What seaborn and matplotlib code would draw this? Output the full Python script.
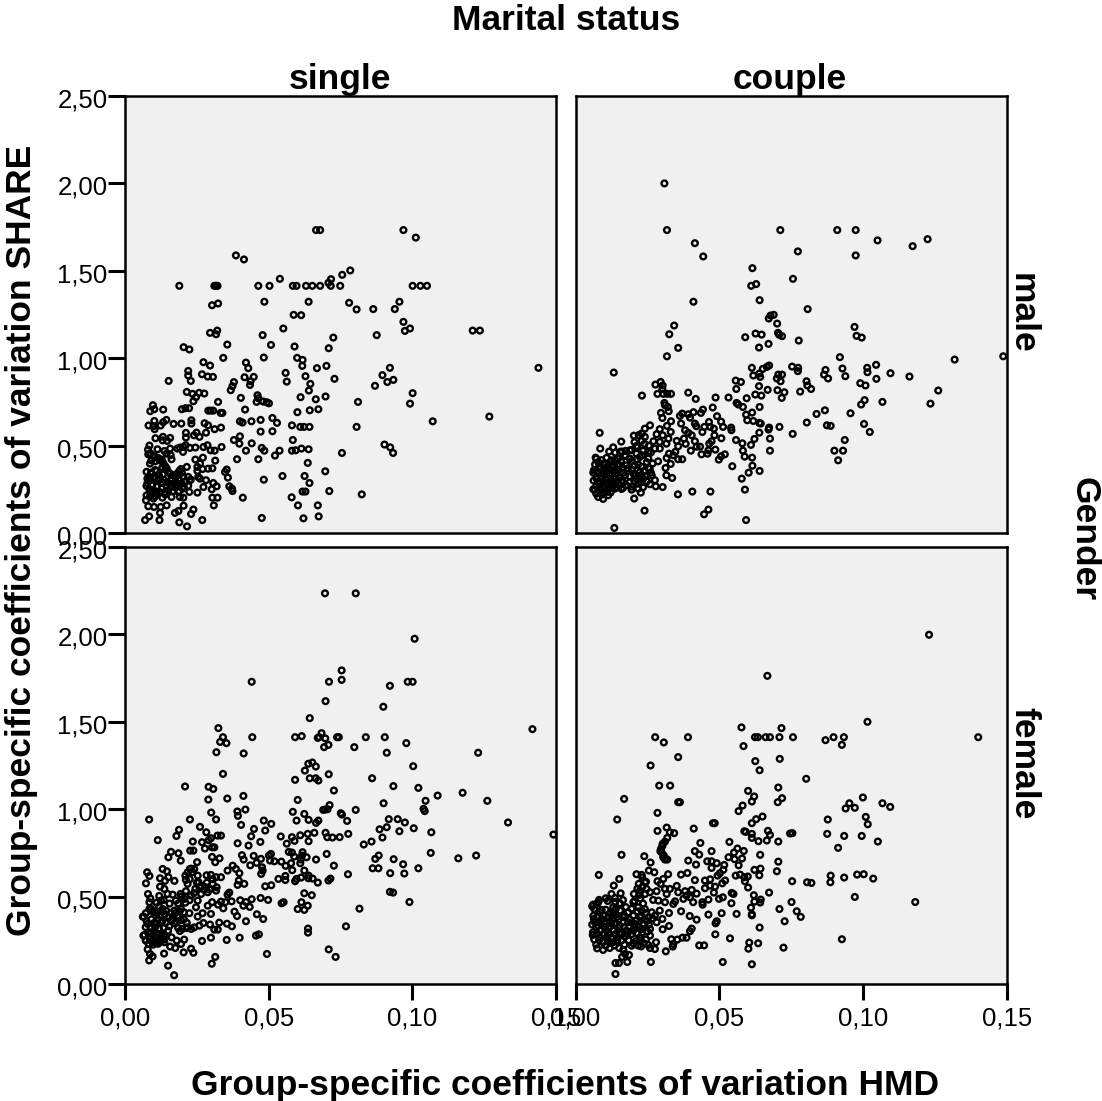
import pandas as pd
import seaborn as sns
import matplotlib.pyplot as plt
from matplotlib.transforms import ScaledTranslation

# --- Data: (HMD coefficient, SHARE coefficient) ---

x_ticks = [0.00, 0.05, 0.10, 0.15]
x_tick_labels = ['0,00', '0,05', '0,10', '0,15']
y_ticks = [0.00, 0.50, 1.00, 1.50, 2.00, 2.50]
y_tick_labels = ['0,00', '0,50', '1,00', '1,50', '2,00', '2,50']

single_male = [
    (.0665,1.733),(.0679,1.733),(.0969,1.733),(.1012,1.69),(.0386,1.588),(.0414,1.565),(.0189,1.414),(.0311,1.414),(.0317,1.414),(.0322,1.414),
    (.0464,1.414),(.0503,1.414),(.0539,1.454),(.0584,1.414),(.0597,1.414),(.063,1.414),(.0652,1.414),(.0679,1.414),(.0708,1.431),(.0717,1.452),
    (.0716,1.414),(.0749,1.414),(.0756,1.477),(.0784,1.502),(.1001,1.414),(.1028,1.414),(.1051,1.414),(.0303,1.303),(.0324,1.313),(.0485,1.323),
    (.0639,1.323),(.078,1.317),(.0806,1.279),(.0864,1.281),(.0939,1.281),(.0955,1.323),(.0587,1.248),(.0613,1.246),(.0969,1.208),(.0992,1.17),
    (.0974,1.156),(.0551,1.17),(.121,1.158),(.1235,1.158),(.0296,1.145),(.0317,1.137),(.0321,1.158),(.0479,1.132),(.0725,1.118),(.0876,1.132),
    (.0204,1.063),(.0224,1.05),(.0356,1.078),(.0508,1.076),(.059,1.067),(.0709,1.057),(.1439,.945),(.0342,1.002),(.0483,1.004),(.0599,1.002),
    (.0618,.99),(.0273,.977),(.0296,.958),(.0421,.975),(.0429,.943),(.0617,.956),(.0668,.943),(.0701,.956),(.0922,.945),(.022,.927),
    (.022,.901),(.0229,.87),(.0268,.908),(.0288,.895),(.0306,.893),(.0416,.891),(.0448,.893),(.0437,.868),(.0435,.847),(.0559,.916),
    (.0563,.866),(.0628,.897),(.0729,.882),(.0152,.87),(.0896,.903),(.0913,.864),(.0934,.876),(.087,.842),(.0379,.863),(.0374,.84),
    (.0368,.817),(.0645,.853),(.064,.815),(.0215,.807),(.0235,.796),(.0258,.802),(.0276,.798),(.0247,.777),(.0238,.754),(.1001,.8),
    (.0992,.74),(.0698,.781),(.0611,.777),(.0664,.765),(.0811,.75),(.0324,.75),(.0403,.773),(.0461,.788),(.0464,.771),(.0458,.75),
    (.0481,.752),(.0493,.748),(.0501,.742),(.0097,.731),(.0088,.697),(.0102,.708),(.0133,.706),(.0198,.708),(.021,.714),(.0223,.714),
    (.029,.7),(.0298,.7),(.0307,.7),(.0333,.687),(.0339,.687),(.0418,.706),(.06,.691),(.0643,.702),(.0673,.708),(.0513,.658),
    (.0529,.63),(.0472,.647),(.044,.639),(.04,.639),(.0409,.632),(.1071,.639),(.1268,.666),(.0082,.615),(.0102,.641),(.0099,.611),
    (.0103,.594),(.0124,.615),(.0133,.634),(.0144,.647),(.0169,.624),(.0196,.626),(.0231,.645),(.0231,.626),(.0277,.628),(.0289,.616),
    (.0312,.594),(.0334,.603),(.0282,.574),(.0581,.616),(.061,.607),(.0623,.607),(.0642,.607),(.0806,.607),(.0472,.58),(.0513,.582),
    (.04,.553),(.0379,.532),(.0398,.511),(.0441,.513),(.0584,.532),(.0212,.573),(.0212,.546),(.024,.559),(.0249,.574),(.0259,.55),
    (.0132,.55),(.0106,.542),(.0131,.53),(.0157,.544),(.0147,.527),(.0085,.5),(.0113,.479),(.008,.477),(.0081,.45),(.0137,.469),
    (.0157,.483),(.0145,.454),(.0159,.445),(.0162,.422),(.0182,.483),(.0191,.489),(.0203,.492),(.0211,.502),(.0202,.464),(.0226,.487),
    (.0245,.489),(.0273,.492),(.0287,.502),(.0298,.473),(.0312,.471),(.0336,.492),(.0421,.471),(.0476,.487),(.0485,.471),(.0538,.471),
    (.0522,.443),(.0581,.471),(.0594,.473),(.0614,.483),(.0639,.479),(.0755,.458),(.0903,.506),(.0923,.49),(.0933,.458),(.039,.422),
    (.0464,.422),(.0636,.401),(.0697,.353),(.0548,.326),(.0625,.326),(.0483,.305),(.0642,.286),(.0711,.24),(.0824,.221),(.0618,.237),
    (.0628,.237),(.058,.204),(.0602,.158),(.0671,.158),(.0674,.095),(.0621,.084),(.0476,.086),(.041,.202),(.0245,.42),(.0271,.431),
    (.0314,.414),(.0261,.397),(.0252,.378),(.0252,.355),(.027,.366),(.0289,.368),(.0304,.37),(.0215,.378),(.0195,.366),(.0189,.355),
    (.0354,.363),(.0348,.349),(.0358,.317),(.0363,.267),(.0372,.254),(.0374,.24),(.0105,.435),(.012,.416),(.0133,.401),(.014,.382),
    (.0087,.397),(.011,.355),(.0093,.34),(.0085,.321),(.0078,.311),(.0099,.311),(.012,.311),(.0128,.292),(.0157,.34),(.0162,.311),
    (.0168,.282),(.0186,.311),(.0203,.321),(.022,.321),(.018,.273),(.0197,.282),(.0229,.305),(.0255,.321),(.0261,.311),(.0282,.302),
    (.0307,.286),(.0319,.267),(.0302,.25),(.0273,.263),(.0252,.231),(.0224,.235),(.0201,.254),(.0186,.235),(.0162,.206),(.0191,.206),
    (.0203,.202),(.0304,.202),(.0322,.202),(.0309,.158),(.0204,.156),(.0075,.269),(.0093,.273),(.0128,.254),(.014,.235),(.011,.225),
    (.0087,.21),(.0073,.187),(.013,.202),(.0099,.197),(.0081,.153),(.0101,.149),(.0124,.149),(.0145,.158),(.0122,.115),(.0084,.095),
    (.007,.074),(.012,.074),(.0174,.115),(.0186,.126),(.0238,.134),(.023,.109),(.0189,.061),(.0216,.038),(.0269,.074),
    # dense part, lower left
    (.0075,.35),(.009,.345),(.0105,.36),(.0118,.33),(.0132,.335),(.015,.35),(.017,.33),(.0182,.34),(.0198,.345),(.0088,.31),
    (.0102,.32),(.0115,.3),(.0135,.305),(.0148,.29),(.016,.3),(.0175,.295),(.019,.3),(.021,.295),(.0225,.3),(.0078,.285),
    (.0095,.275),(.011,.265),(.0145,.27),(.016,.265),(.0175,.26),(.0185,.27),(.0205,.265),(.022,.27),(.0085,.25),(.0105,.24),
    (.012,.235),(.015,.245),(.0168,.24),(.0188,.24),(.0075,.215),(.0092,.235),(.0105,.21),(.014,.22),(.0088,.455),(.0098,.44),
    (.0115,.43),(.0128,.42),(.0105,.41),(.0092,.415),(.013,.375),(.0145,.37),
]

couple_male = [
    (.0309,2.0),(.0318,1.733),(.0415,1.658),(.0444,1.582),(.0712,1.733),(.091,1.733),(.0974,1.733),(.105,1.674),(.1172,1.641),(.1224,1.681),
    (.0974,1.588),(.0773,1.611),(.0615,1.515),(.0756,1.454),(.0611,1.414),(.0628,1.424),(.041,1.323),(.064,1.332),(.0807,1.281),(.0672,1.227),
    (.0678,1.244),(.0689,1.248),(.0701,1.198),(.0343,1.187),(.0326,1.137),(.059,1.12),(.0626,1.141),(.0647,1.135),(.0704,1.145),(.0708,1.134),
    (.0718,1.126),(.097,1.179),(.0977,1.128),(.0995,1.118),(.0776,1.101),(.0671,1.082),(.0638,1.061),(.0357,1.059),(.0318,1.011),(.0919,1.006),
    (.1318,.992),(.1487,1.011),(.1045,.962),(.1014,.945),(.1015,.92),(.0928,.941),(.1095,.914),(.1161,.895),(.1046,.882),(.0938,.897),
    (.0869,.933),(.0864,.906),(.0878,.884),(.0753,.952),(.0774,.945),(.0773,.926),(.0673,.958),(.0665,.95),(.0651,.939),(.0613,.945),
    (.0618,.901),(.0639,.912),(.0642,.893),(.0718,.906),(.0705,.906),(.07,.884),(.0713,.868),(.0557,.872),(.0575,.864),(.0559,.824),
    (.0638,.84),(.0668,.819),(.0702,.817),(.0726,.805),(.0781,.809),(.0717,.773),(.0646,.786),(.0625,.792),(.0595,.771),(.0532,.775),
    (.0487,.775),(.0418,.767),(.0392,.803),(.0231,.786),(.0133,.918),(.0803,.868),(.0806,.844),(.0819,.824),(.099,.857),(.1008,.844),
    (.1261,.815),(.1234,.74),(.1067,.75),(.1005,.76),(.0993,.735),(.0867,.702),(.0838,.681),(.0956,.685),(.0804,.632),(.0874,.616),
    (.0887,.613),(.1003,.624),(.1023,.578),(.0755,.567),(.0709,.607),(.0936,.532),(.09,.471),(.093,.471),(.0913,.416),(.064,.721),
    (.0614,.689),(.0593,.677),(.0597,.645),(.0618,.641),(.0639,.63),(.0644,.626),(.0673,.603),(.0671,.592),(.0639,.574),(.0676,.54),
    (.0622,.538),(.061,.504),(.058,.513),(.0558,.532),(.0582,.471),(.0676,.471),(.0588,.437),(.0614,.431),(.0615,.385),(.0545,.382),
    (.064,.355),(.0602,.345),(.0578,.311),(.0589,.248),(.0593,.074),(.0469,.237),(.0406,.237),(.0356,.221),(.0462,.134),(.0447,.107),
    (.024,.128),(.0135,.029),(.056,.744),(.0566,.735),(.0582,.721),(.0477,.718),(.0443,.706),(.0436,.687),(.041,.691),(.0392,.679),
    (.0398,.66),(.0371,.683),(.0363,.67),(.0492,.668),(.0506,.637),(.0513,.607),(.0541,.603),(.0542,.588),(.0464,.635),(.0367,.626),
    (.0415,.626),(.042,.611),(.0448,.607),(.0468,.607),(.0481,.597),(.0441,.578),(.0381,.588),(.0392,.573),(.0404,.559),(.0483,.559),
    (.0507,.542),(.0377,.54),(.0352,.527),(.0415,.525),(.0383,.51),(.0357,.496),(.0473,.525),(.0465,.511),(.0433,.494),(.0421,.494),
    (.0401,.471),(.0462,.473),(.0459,.454),(.0438,.45),(.0486,.477),(.0519,.45),(.0506,.439),(.0498,.42),(.0347,.464),(.0325,.454),
    (.0317,.429),(.034,.445),(.0357,.422),(.0371,.422),(.0287,.41),(.0331,.395),(.0313,.372),(.0316,.33),(.0336,.315),(.0303,.263),
    (.0278,.849),(.0296,.864),(.0303,.844),(.0302,.823),(.0285,.796),(.0305,.796),(.0319,.796),(.0332,.796),(.0309,.744),(.0311,.731),
    (.0321,.721),(.0324,.697),(.0297,.687),(.0302,.658),(.0332,.639),(.0318,.613),(.0331,.578),(.0293,.594),(.0282,.565),(.0303,.559),
    (.0323,.54),(.0259,.616),(.0241,.597),(.023,.569),(.0203,.557),(.0241,.55),(.023,.527),(.0271,.525),(.0293,.521),(.0316,.511),
    (.0159,.523),(.0084,.573),(.0086,.483),(.0131,.49),(.0117,.466),(.0162,.466),(.0189,.473),(.0212,.498),(.0172,.445),(.0212,.454),
    (.0253,.464),(.0276,.483),(.0293,.483),(.007,.431),(.0079,.406),(.0096,.397),(.0125,.416),(.0148,.426),(.0189,.426),(.0224,.435),
    (.0253,.426),(.0064,.359),(.0085,.368),(.0108,.378),(.0131,.378),(.0154,.387),(.0177,.387),(.0206,.387),(.023,.378),(.0253,.374),
    (.0079,.34),(.0096,.34),(.0119,.34),(.0143,.34),(.0166,.344),(.0201,.34),(.0224,.349),(.0265,.33),(.0073,.311),(.009,.311),
    (.0114,.311),(.0137,.311),(.016,.302),(.0212,.311),(.0235,.311),(.0276,.302),(.0085,.286),(.0108,.282),(.0131,.282),(.0154,.273),
    (.0218,.282),(.0259,.279),(.0279,.267),(.0177,.273),(.0067,.248),(.009,.248),(.0114,.248),(.0137,.254),(.016,.252),(.0195,.248),
    (.0227,.231),(.0218,.254),(.0079,.206),(.0096,.195),(.0114,.216),(.0204,.197),
    # dense part, lower left
    (.0072,.425),(.0091,.417),(.0108,.43),(.0122,.405),(.0138,.418),(.0158,.41),(.0173,.44),(.0196,.412),(.0214,.42),(.0232,.445),
    (.0248,.405),(.0268,.398),(.0068,.392),(.0083,.383),(.0102,.395),(.0117,.362),(.0126,.39),(.0148,.362),(.0162,.372),(.0182,.37),
    (.0196,.362),(.0218,.392),(.0238,.355),(.0258,.368),(.0062,.345),(.0074,.353),(.0091,.325),(.0106,.355),(.0122,.325),(.0136,.355),
    (.0152,.318),(.0172,.33),(.0188,.325),(.0208,.328),(.0226,.33),(.0242,.325),(.0262,.345),(.0063,.3),(.0079,.292),(.0096,.295),
    (.0105,.318),(.0122,.295),(.0142,.295),(.0165,.29),(.0188,.29),(.0205,.295),(.0228,.29),(.0248,.295),(.0072,.268),(.0082,.26),
    (.0098,.268),(.0118,.265),(.0128,.265),(.0142,.262),(.0165,.258),(.0195,.265),(.0235,.262),(.0062,.25),(.0072,.225),(.0102,.23),
    (.0122,.232),(.0092,.22),(.0138,.46),(.0155,.465),(.0175,.47),(.0195,.475),(.0215,.49),(.0205,.52),(.024,.51),(.022,.56),
    (.0255,.5),(.0235,.47),(.0262,.46),
]

single_female = [
    (.0696,2.235),(.0803,2.235),(.1008,1.975),(.0754,1.794),(.0754,1.74),(.071,1.729),(.0441,1.729),(.0922,1.706),(.0984,1.729),(.1001,1.729),
    (.0698,1.618),(.0899,1.586),(.0643,1.521),(.1418,1.458),(.0325,1.464),(.0341,1.412),(.0331,1.385),(.0353,1.378),(.0318,1.326),(.0413,1.319),
    (.0443,1.412),(.0592,1.412),(.0615,1.418),(.0671,1.408),(.0676,1.412),(.0684,1.435),(.0697,1.405),(.0738,1.412),(.0744,1.412),(.0838,1.412),
    (.0904,1.412),(.0979,1.378),(.0708,1.368),(.0693,1.355),(.0798,1.355),(.0911,1.323),(.1229,1.323),(.1003,1.246),(.0638,1.26),(.0652,1.267),
    (.0664,1.244),(.0626,1.221),(.0709,1.2),(.0341,1.202),(.0643,1.177),(.0664,1.177),(.0673,1.164),(.0592,1.168),(.086,1.177),(.0209,1.13),
    (.0291,1.128),(.0307,1.116),(.0934,1.132),(.1021,1.122),(.0727,1.107),(.1175,1.094),(.1088,1.078),(.0412,1.076),(.029,1.055),(.0356,1.061),
    (.0601,1.053),(.1046,1.048),(.1261,1.048),(.09,1.034),(.0712,1.023),(.0419,.998),(.0391,.987),(.0393,.962),(.03,.981),(.0584,.985),
    (.069,.996),(.0697,.998),(.0705,1.0),(.0803,.996),(.1039,1.002),(.1043,.989),(.0751,.977),(.0755,.969),(.0624,.973),(.0084,.941),
    (.0226,.941),(.0317,.941),(.0639,.939),(.0597,.935),(.0673,.935),(.0665,.922),(.0483,.935),(.0509,.916),(.0773,.933),(.0918,.943),
    (.0949,.943),(.0974,.924),(.1333,.924),(.0404,.91),(.0261,.899),(.0449,.887),(.0488,.878),(.0886,.885),(.0911,.897),(.1005,.891),
    (.0955,.874),(.1066,.868),(.1491,.855),(.0188,.882),(.0179,.847),(.0283,.868),(.0322,.849),(.0334,.849),(.0299,.834),(.0291,.823),
    (.0439,.845),(.0542,.844),(.0581,.84),(.061,.851),(.0636,.859),(.0659,.865),(.0698,.865),(.0704,.84),(.0722,.838),(.0747,.84),
    (.0777,.859),(.0896,.838),(.0114,.823),(.0236,.815),(.0268,.811),(.0392,.805),(.0471,.813),(.059,.819),(.0563,.803),(.0639,.817),
    (.0858,.815),(.0831,.798),(.043,.792),(.0303,.782),(.0311,.782),(.0278,.775),(.0227,.763),(.0238,.763),(.016,.756),(.0151,.725),
    (.0186,.748),(.0194,.706),(.0303,.727),(.0329,.719),(.0407,.737),(.0448,.733),(.0413,.712),(.0702,.744),(.057,.756),(.0581,.752),
    (.0618,.754),(.0589,.729),(.0632,.725),(.0665,.712),(.0508,.744),(.0501,.735),(.0473,.716),(.0505,.706),(.052,.702),(.0544,.7),
    (.0616,.735),(.0612,.712),(.061,.691),(.0578,.691),(.1064,.75),(.116,.719),(.1222,.735),(.0871,.716),(.0883,.735),(.0935,.714),
    (.0968,.685),(.0727,.677),(.0314,.697),(.0251,.697),(.0458,.693),(.0436,.679),(.0559,.676),(.0477,.668),(.0479,.649),(.0474,.63),
    (.0582,.651),(.0624,.649),(.0862,.662),(.0882,.662),(.1021,.662),(.0923,.634),(.0972,.632),(.0776,.628),(.0375,.677),(.0386,.658),
    (.0357,.649),(.0398,.634),(.0131,.658),(.0146,.645),(.0226,.658),(.0241,.658),(.0218,.639),(.0077,.639),(.0085,.618),(.0122,.605),
    (.0151,.611),(.0172,.59),(.0139,.59),(.0073,.576),(.0253,.62),(.0284,.622),(.0299,.624),(.0317,.611),(.0334,.611),(.0212,.595),
    (.0256,.582),(.0392,.567),(.0415,.573),(.0396,.592),(.0218,.573),(.0305,.573),(.0259,.553),(.0282,.553),(.0319,.553),(.0122,.557),
    (.0137,.544),(.0488,.559),(.0509,.565),(.0534,.601),(.0558,.618),(.0558,.595),(.0592,.588),(.0597,.601),(.0613,.609),(.0639,.62),
    (.0638,.605),(.0653,.603),(.0671,.58),(.0708,.592),(.0715,.603),(.008,.515),(.0119,.504),(.0148,.515),(.0166,.511),(.0193,.515),
    (.0212,.531),(.023,.506),(.0265,.515),(.0288,.525),(.0317,.534),(.0357,.511),(.0363,.523),(.0624,.519),(.065,.508),(.0922,.527),
    (.0933,.523),(.099,.469),(.0085,.468),(.0125,.477),(.0177,.477),(.0206,.487),(.0253,.477),(.0303,.468),(.0334,.471),(.0349,.468),
    (.0371,.473),(.0401,.479),(.0421,.469),(.0441,.485),(.0472,.492),(.0498,.481),(.0545,.462),(.0552,.468),(.0614,.468),(.0091,.429),
    (.0131,.429),(.0172,.42),(.0195,.429),(.0247,.439),(.0288,.448),(.0324,.454),(.0342,.433),(.0412,.448),(.0434,.441),(.0601,.429),
    (.0636,.448),(.0624,.424),(.0816,.431),(.0381,.414),(.039,.389),(.0459,.399),(.0481,.372),(.0421,.359),(.0065,.386),(.0108,.391),
    (.0137,.401),(.0154,.382),(.0183,.391),(.0224,.405),(.0253,.386),(.027,.405),(.0299,.401),(.0079,.344),(.0108,.344),(.0125,.353),
    (.0154,.33),(.0172,.347),(.0218,.324),(.0241,.324),(.0259,.334),(.0273,.349),(.0296,.34),(.0328,.351),(.0355,.345),(.0372,.33),
    (.0311,.311),(.0323,.311),(.0191,.303),(.0064,.277),(.0091,.296),(.0119,.286),(.0137,.277),(.0162,.267),(.0299,.265),(.0268,.246),
    (.0354,.252),(.0399,.265),(.0456,.277),(.0466,.284),(.0637,.317),(.0637,.294),(.0769,.33),(.0073,.248),(.0096,.239),(.0119,.239),
    (.0137,.239),(.018,.248),(.0206,.254),(.0195,.229),(.0157,.214),(.0175,.206),(.0204,.181),(.023,.202),(.0238,.179),(.0079,.198),
    (.0087,.172),(.0096,.158),(.0084,.135),(.0136,.174),(.015,.105),(.0171,.05),(.0314,.155),(.0302,.116),(.0494,.172),(.0709,.198),
    (.0733,.155),
    # dense part, lower left
    (.0062,.385),(.0072,.405),(.0085,.43),(.0095,.415),(.0105,.41),(.0118,.445),(.013,.415),(.0143,.42),(.016,.405),(.0175,.405),
    (.019,.415),(.0205,.41),(.0075,.36),(.0092,.37),(.0102,.35),(.0115,.37),(.013,.36),(.0142,.35),(.0162,.365),(.018,.355),
    (.0195,.365),(.0205,.37),(.0215,.35),(.0072,.325),(.009,.32),(.0105,.325),(.0118,.315),(.0135,.32),(.015,.305),(.0185,.32),
    (.02,.315),(.0215,.32),(.023,.315),(.0068,.28),(.0082,.29),(.01,.28),(.0108,.265),(.0125,.27),(.013,.29),(.0072,.25),
    (.0085,.265),(.0095,.25),(.0108,.24),(.0125,.245),(.0135,.255),(.0082,.23),(.0098,.225),(.0115,.23),(.0088,.49),(.011,.465),
    (.0135,.48),(.0155,.46),(.0185,.46),(.021,.5),(.0225,.48),(.024,.52),(.021,.465),(.0195,.5),(.023,.66),(.0235,.64),
    (.025,.58),(.0265,.56),(.0275,.54),(.0295,.54),(.0305,.6),(.0285,.58),(.0245,.545),(.0225,.6),(.021,.62),
]

couple_female = [
    (.1229,1.998),(.0667,1.763),(.1015,1.5),(.14,1.412),(.0577,1.468),(.0716,1.464),(.0277,1.412),(.0391,1.412),(.0307,1.382),(.0624,1.412),
    (.0634,1.412),(.0661,1.412),(.0676,1.412),(.0709,1.412),(.0756,1.412),(.0869,1.395),(.0897,1.412),(.0933,1.412),(.0926,1.368),(.0584,1.361),
    (.0357,1.298),(.0625,1.275),(.071,1.288),(.0261,1.25),(.064,1.223),(.0802,1.174),(.0291,1.135),(.0329,1.135),(.0705,1.124),(.06,1.105),
    (.0621,1.073),(.0613,1.044),(.0169,1.059),(.0357,1.04),(.0363,1.04),(.0703,1.04),(.0718,1.063),(.0999,1.067),(.0952,1.034),(.0939,1.004),
    (.0971,1.008),(.1067,1.034),(.1094,1.013),(.0581,1.021),(.0567,.989),(.0285,.979),(.0145,.941),(.065,.958),(.0628,.943),(.0613,.92),
    (.0877,.941),(.1009,.956),(.1016,.914),(.0478,.92),(.0484,.92),(.0317,.895),(.0285,.876),(.0328,.868),(.0343,.863),(.0411,.889),
    (.0319,.836),(.0311,.815),(.0303,.802),(.0297,.773),(.0299,.754),(.0307,.735),(.0311,.712),(.0319,.712),(.0587,.874),(.0592,.87),
    (.0613,.859),(.0613,.836),(.0636,.817),(.0669,.876),(.0676,.853),(.0665,.821),(.0705,.815),(.0746,.861),(.0754,.863),(.0875,.859),
    (.0934,.847),(.0995,.847),(.1051,.815),(.0913,.779),(.0535,.813),(.0434,.807),(.0473,.76),(.0415,.76),(.043,.74),(.0563,.775),
    (.0551,.752),(.0585,.761),(.0532,.725),(.0553,.714),(.0579,.718),(.0642,.739),(.016,.739),(.0239,.731),(.0261,.695),(.0392,.706),
    (.0419,.683),(.0458,.702),(.0473,.702),(.0491,.691),(.0517,.681),(.0473,.664),(.0567,.679),(.0705,.7),(.07,.645),(.0622,.653),
    (.0643,.66),(.0639,.622),(.0081,.624),(.0212,.628),(.023,.624),(.0255,.649),(.0274,.639),(.0152,.601),(.0322,.628),(.0367,.626),
    (.0389,.635),(.0514,.653),(.0502,.634),(.0494,.62),(.052,.592),(.051,.576),(.0557,.62),(.0572,.626),(.0587,.611),(.0599,.615),
    (.0589,.588),(.0415,.594),(.045,.592),(.0468,.599),(.045,.548),(.0468,.563),(.0485,.557),(.0481,.523),(.0543,.521),(.0549,.515),
    (.06,.552),(.0673,.523),(.0753,.588),(.0805,.582),(.082,.578),(.0887,.62),(.0886,.582),(.0934,.609),(.0979,.626),(.1002,.628),
    (.1035,.603),(.0133,.563),(.0125,.515),(.0157,.519),(.0137,.492),(.022,.573),(.0241,.582),(.0247,.544),(.0224,.534),(.0203,.515),
    (.0259,.525),(.0285,.588),(.0305,.601),(.0296,.573),(.0311,.544),(.0328,.544),(.0352,.561),(.0282,.531),(.0317,.515),(.0357,.525),
    (.0381,.531),(.0404,.538),(.0421,.517),(.0386,.506),(.0375,.487),(.0398,.496),(.0061,.454),(.0082,.481),(.0079,.468),(.0154,.462),
    (.0131,.439),(.0201,.468),(.0091,.424),(.027,.481),(.0288,.477),(.0311,.468),(.034,.458),(.0346,.473),(.0409,.468),(.0441,.468),
    (.0442,.454),(.0462,.483),(.0499,.487),(.0512,.496),(.0542,.462),(.062,.508),(.0644,.483),(.0622,.471),(.0642,.466),(.0751,.469),
    (.0971,.498),(.1181,.469),(.061,.437),(.0709,.429),(.0769,.416),(.0783,.384),(.0218,.439),(.0241,.429),(.0131,.41),(.0183,.41),
    (.0265,.41),(.0293,.42),(.0325,.406),(.0367,.416),(.0397,.389),(.0421,.368),(.0462,.397),(.0508,.405),(.056,.401),(.0613,.399),
    (.0613,.393),(.0727,.359),(.0491,.359),(.0487,.347),(.0064,.372),(.0067,.353),(.0091,.372),(.0114,.382),(.0143,.382),(.0166,.382),
    (.0201,.391),(.0224,.382),(.0253,.382),(.0276,.391),(.0302,.372),(.0079,.334),(.0102,.344),(.0125,.344),(.0154,.334),(.0183,.353),
    (.0206,.344),(.0235,.344),(.0282,.353),(.0061,.296),(.0085,.305),(.0108,.305),(.0131,.305),(.0154,.296),(.0177,.305),(.0201,.305),
    (.023,.315),(.0259,.315),(.0303,.313),(.0325,.332),(.0085,.267),(.0108,.267),(.0125,.267),(.0148,.267),(.0172,.271),(.0224,.267),
    (.0259,.277),(.0096,.239),(.0131,.239),(.0404,.317),(.0398,.302),(.064,.323),(.0486,.284),(.0537,.261),(.0386,.265),(.0372,.265),
    (.0354,.254),(.0333,.256),(.034,.229),(.0338,.214),(.0604,.237),(.0635,.233),(.0601,.202),(.0926,.256),(.0723,.208),(.043,.221),
    (.0447,.221),(.0314,.187),(.0075,.204),(.0096,.195),(.0119,.206),(.0152,.206),(.0166,.195),(.0195,.219),(.0201,.233),(.0238,.233),
    (.0253,.223),(.0259,.206),(.028,.239),(.0276,.2),(.0186,.166),(.0162,.155),(.0172,.172),(.018,.126),(.0139,.12),(.0151,.12),
    (.0139,.057),(.0262,.126),(.0512,.126),(.0613,.113),
    # dense part, lower left
    (.0065,.43),(.0085,.41),(.0105,.425),(.012,.405),(.014,.43),(.0155,.42),(.0175,.44),(.0195,.43),(.0215,.415),(.023,.42),
    (.0245,.405),(.0062,.39),(.0078,.385),(.0098,.39),(.0118,.36),(.0132,.395),(.015,.37),(.0168,.395),(.0188,.37),(.021,.362),
    (.0228,.392),(.0248,.36),(.0268,.375),(.0058,.34),(.0072,.325),(.0088,.35),(.0102,.325),(.0118,.325),(.0135,.345),(.015,.32),
    (.0168,.325),(.0185,.33),(.0205,.325),(.022,.325),(.0238,.34),(.0255,.34),(.006,.28),(.0075,.29),(.0098,.285),(.0118,.285),
    (.0138,.285),(.016,.285),(.018,.285),(.0195,.285),(.0215,.29),(.0232,.295),(.025,.3),(.0065,.255),(.0082,.25),(.0112,.25),
    (.012,.235),(.0145,.25),(.016,.25),(.0185,.25),(.021,.245),(.0225,.25),(.0245,.255),(.0072,.225),(.0105,.22),(.0135,.22),
    (.017,.225),(.0218,.22),(.0228,.215),(.0138,.47),(.0165,.48),(.0205,.475),(.0225,.49),(.0235,.46),(.0215,.545),(.0232,.555),
    (.0222,.51),(.0242,.515),(.0245,.585),(.0232,.61),(.0058,.445),(.0075,.46),(.0112,.475),(.0105,.49),(.0302,.79),(.0295,.76),
    (.0305,.725),(.0315,.715),
]

# --- Long table for the facets ---

groups = [('male', 'single', single_male), ('male', 'couple', couple_male),
          ('female', 'single', single_female), ('female', 'couple', couple_female)]
frames = []
for gender, marital, points in groups:
    part = pd.DataFrame(points, columns=['hmd', 'share'])
    part['gender'] = gender
    part['marital'] = marital
    frames.append(part)
df = pd.concat(frames, ignore_index=True)

# --- Plot ---

sns.set_style('white')
plt.rcParams['font.family'] = ['Liberation Sans', 'DejaVu Sans']

W, H = 1102, 1101
g = sns.FacetGrid(df, row='gender', col='marital', row_order=['male', 'female'],
                  col_order=['single', 'couple'], sharex=False, sharey=False)
g.map_dataframe(sns.scatterplot, x='hmd', y='share', s=17, marker='o',
                facecolor='none', edgecolor='black', linewidth=1.7, clip_on=False)
g.figure.set_size_inches(W / 100, H / 100)
g.figure.set_dpi(100)
fig = g.figure

# panel boxes in pixels: left, right, top, bottom
boxes = {(0, 0): (125, 556, 96, 533), (0, 1): (575.5, 1007, 96, 533),
         (1, 0): (125, 556, 547, 984), (1, 1): (575.5, 1007, 547, 984)}

# y tick labels sit a little under their ticks in the original
label_shift = ScaledTranslation(0, -2 / 100, fig.dpi_scale_trans)

for (r, c), (l, ri, t, b) in boxes.items():
    ax = g.axes[r, c]
    ax.set_position([l / W, 1 - b / H, (ri - l) / W, (b - t) / H])
    ax.set_facecolor('#F0F0F0')
    ax.set_xlim(0, 0.15)
    ax.set_ylim(0, 2.5)
    ax.set_title('')
    ax.set_xlabel('')
    ax.set_ylabel('')
    for spine in ax.spines.values():
        spine.set_visible(True)
        spine.set_color('black')
        spine.set_linewidth(1.8)
    ax.set_xticks(x_ticks if r == 1 else [])
    ax.set_yticks(y_ticks if c == 0 else [])
    if r == 1:
        ax.set_xticklabels(x_tick_labels)
    if c == 0:
        ax.set_yticklabels(y_tick_labels)
    ax.tick_params(axis='x', length=11.5, width=2.2, color='black', labelcolor='black',
                   labelsize=18.5, pad=5, bottom=r == 1)
    ax.tick_params(axis='y', length=12, width=2.2, color='black', labelcolor='black',
                   labelsize=18.5, pad=0.5, left=c == 0)
    for label in ax.get_yticklabels():
        label.set_transform(label.get_transform() + label_shift)


def put(x, y, text, size=25.5, weight='bold', rotation=0):
    fig.text(x / W, 1 - y / H, text, fontsize=size, fontweight=weight, rotation=rotation,
             ha='center', va='center', color='black')


put(566, 20, 'Marital status')
put(340, 80, 'single')
put(790, 80, 'couple')
put(1022, 313, 'male', rotation=-90)
put(1024, 763, 'female', rotation=-90)
put(1084, 539, 'Gender', rotation=-90)
put(22, 540, 'Group-specific coefficients of variation SHARE', rotation=90)
put(565, 1085, 'Group-specific coefficients of variation HMD')

fig.savefig('out.png', dpi=100)
